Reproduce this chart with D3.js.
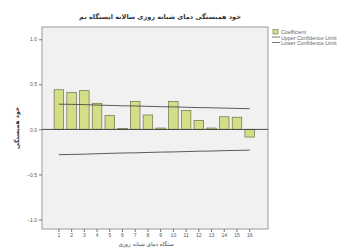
<!DOCTYPE html>
<html><head><meta charset="utf-8">
<script src="https://cdn.jsdelivr.net/npm/d3@7"></script>
<style>body{margin:0;background:#fff}svg{display:block}</style>
</head><body>
<script>
const lags = [1,2,3,4,5,6,7,8,9,10,11,12,13,14,15,16];
const coefficient = [0.44,0.41,0.43,0.29,0.155,0.01,0.31,0.16,0.015,0.31,0.21,0.10,0.015,0.14,0.135,-0.085];
const upperLimit = [0.28,0.278,0.275,0.27,0.266,0.262,0.26,0.256,0.252,0.25,0.246,0.242,0.24,0.236,0.233,0.23];
const lowerLimit = upperLimit.map(v => -v);
const yTicks = [1.0,0.5,0.0,-0.5,-1.0];
const title = "خود همبستگی دمای شبانه روزی سالانه ایستگاه بم";
const yLabel = "خود همبستگی";
const xLabel = "ستگاه دمای شبانه روزی";
const legendItems = ["Coefficient","Upper Confidence Limit","Lower Confidence Limit"];

const W=345,H=249;
const svg=d3.select("body").append("svg").attr("width",W).attr("height",H);
const fx0=42,fx1=268,fy0=27,fy1=229;
svg.append("rect").attr("x",fx0).attr("y",fy0).attr("width",fx1-fx0).attr("height",fy1-fy0)
  .attr("fill","#f1f1f1").attr("stroke","#9a9a9a").attr("stroke-width",1);

const x=d3.scaleBand().domain(lags).range([52.6,256]).paddingInner(0.25).paddingOuter(0.12);
const y=d3.scaleLinear().domain([-1,1]).range([219.5,39.3]);

// bars
svg.append("g").selectAll("rect").data(coefficient).join("rect")
  .attr("x",(d,i)=>x(lags[i]))
  .attr("width",x.bandwidth())
  .attr("y",d=>Math.min(y(d),y(0)))
  .attr("height",d=>Math.max(0.8,Math.abs(y(d)-y(0))))
  .attr("fill","#d4de88").attr("stroke","#6d7048").attr("stroke-width",0.7);

// zero line
svg.append("line").attr("x1",fx0).attr("x2",fx1).attr("y1",y(0)).attr("y2",y(0))
  .attr("stroke","#3a3a3a").attr("stroke-width",0.9);

const line=d3.line().x((d,i)=>x(lags[i])+x.bandwidth()/2).y(d=>y(d));
svg.append("path").datum(upperLimit).attr("d",line).attr("fill","none").attr("stroke","#4a4a4a").attr("stroke-width",0.9);
svg.append("path").datum(lowerLimit).attr("d",line).attr("fill","none").attr("stroke","#4a4a4a").attr("stroke-width",0.9);

// y axis
const ya=svg.append("g").attr("transform",`translate(${fx0},0)`)
  .call(d3.axisLeft(y).tickValues(yTicks).tickFormat(d3.format(".1f")).tickSize(3).tickPadding(2));
ya.select(".domain").remove();
ya.selectAll("line").attr("stroke","#777");
ya.selectAll("text").attr("font-size",5).attr("fill","#555").attr("font-family","Arial, Liberation Sans, sans-serif");

// x axis
const xa=svg.append("g").attr("transform",`translate(0,${fy1})`)
  .call(d3.axisBottom(x).tickSize(3).tickPadding(1.5));
xa.select(".domain").remove();
xa.selectAll("line").attr("stroke","#777");
xa.selectAll("text").attr("font-size",5).attr("fill","#555").attr("font-family","Arial, Liberation Sans, sans-serif");

// titles
svg.append("text").attr("x",160).attr("y",19).attr("text-anchor","middle").attr("font-size",6.5)
  .attr("font-weight","600").attr("fill","#333").attr("font-family","DejaVu Sans, sans-serif").text(title);
svg.append("text").attr("x",146).attr("y",246).attr("text-anchor","middle").attr("font-size",5.5)
  .attr("fill","#444").attr("font-family","DejaVu Sans, sans-serif").text(xLabel);
svg.append("text").attr("transform",`translate(19,${(fy0+fy1)/2}) rotate(-90)`).attr("text-anchor","middle")
  .attr("font-size",6).attr("font-weight","bold").attr("fill","#333").attr("font-family","DejaVu Sans, sans-serif").text(yLabel);

// legend
const lg=svg.append("g").attr("transform","translate(273,33)");
lg.append("rect").attr("x",0).attr("y",-3.5).attr("width",5).attr("height",4.5)
  .attr("fill","#d4de88").attr("stroke","#6d7048").attr("stroke-width",0.6);
[1,2].forEach(i=>lg.append("line").attr("x1",-1).attr("x2",7).attr("y1",i*5.5-1.5).attr("y2",i*5.5-1.5)
  .attr("stroke","#555").attr("stroke-width",0.8));
lg.selectAll("text").data(legendItems).join("text").attr("x",8).attr("y",(d,i)=>i*5.5+1)
  .attr("font-size",5.3).attr("fill","#666").attr("font-family","Arial, Liberation Sans, sans-serif").text(d=>d);
</script>
</body></html>
